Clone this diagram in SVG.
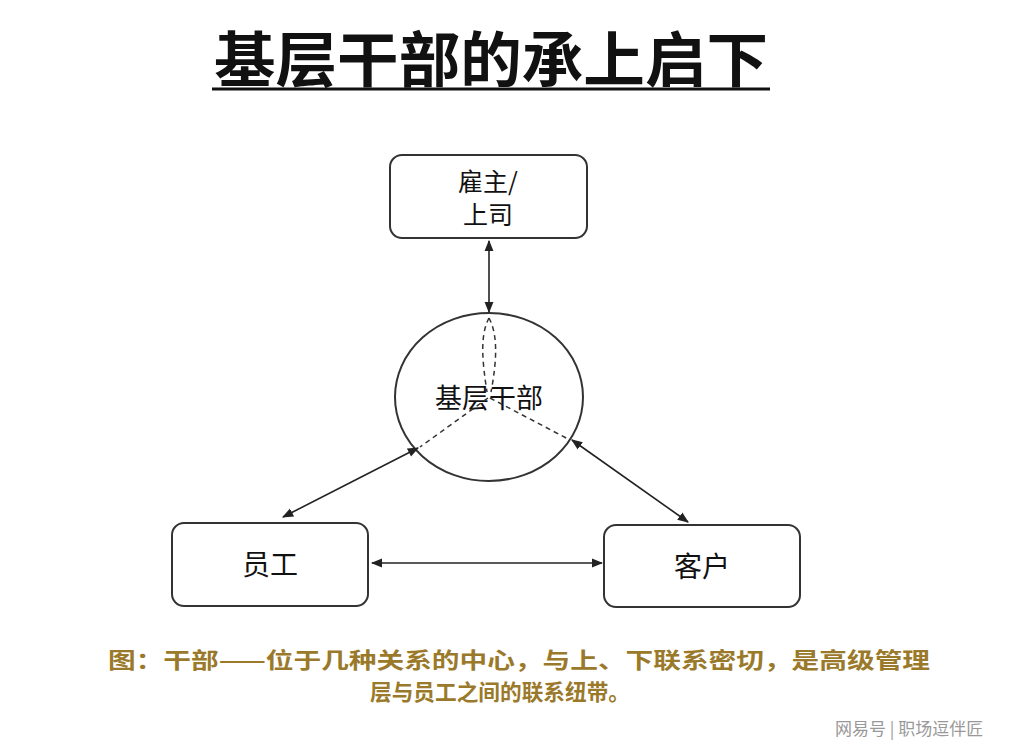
<svg xmlns="http://www.w3.org/2000/svg" width="1014" height="749" viewBox="0 0 1014 749">
<style>
.box{fill:#fff;stroke:#333;stroke-width:2}
.t{font-family:"Noto Sans CJK SC","Liberation Sans",sans-serif;fill:#111}
.ln{stroke:#222;stroke-width:1.6;fill:none}
.ds{stroke:#333;stroke-width:1.5;fill:none;stroke-dasharray:5 4}
.cap{font-family:"Noto Sans CJK SC",sans-serif;fill:#9a7a2a;font-size:22px;font-weight:bold}
</style>
<defs>
<marker id="a" viewBox="0 0 10 10" refX="9" refY="5" markerWidth="7" markerHeight="7" orient="auto-start-reverse"><path d="M0,1 L10,5 L0,9 z" fill="#222"/></marker>
</defs>
<rect width="1014" height="749" fill="#fff"/>
<g id="title">
<text x="214" y="82" textLength="554" lengthAdjust="spacingAndGlyphs" class="t" font-size="60" font-weight="bold">基层干部的承上启下</text>
<line x1="212" y1="89" x2="770" y2="89" stroke="#111" stroke-width="3"/>
</g>
<g id="boss"><rect class="box" x="390" y="155" width="197" height="83" rx="12"/>
<text class="t" font-size="25" x="488" y="191" text-anchor="middle">雇主/</text>
<text class="t" font-size="25" x="488" y="224" text-anchor="middle">上司</text></g>
<g id="cadre"><ellipse cx="489" cy="397" rx="94" ry="84" style="fill:#fff;stroke:#333;stroke-width:2"/>
<text class="t" font-size="27" x="489" y="408" text-anchor="middle">基层干部</text></g>
<g id="staff"><rect class="box" x="172" y="523" width="196" height="83" rx="12"/>
<text class="t" font-size="28" x="270" y="575" text-anchor="middle">员工</text></g>
<g id="client"><rect class="box" x="604" y="525" width="196" height="82" rx="12"/>
<text class="t" font-size="28" x="702" y="577" text-anchor="middle">客户</text></g>
<g id="connectors">
<line class="ln" x1="489" y1="241" x2="489" y2="312" marker-start="url(#a)" marker-end="url(#a)"/>
<line class="ln" x1="283" y1="517" x2="418" y2="448" marker-start="url(#a)" marker-end="url(#a)"/>
<line class="ln" x1="572" y1="440" x2="688" y2="522" marker-start="url(#a)" marker-end="url(#a)"/>
<line class="ln" x1="372" y1="563" x2="602" y2="563" marker-start="url(#a)" marker-end="url(#a)"/>
<path class="ds" d="M489,318 C480,335 482,360 487,392 M489,318 C498,335 497,360 491,392"/>
<path class="ds" d="M488,398 L420,447 M490,398 L570,440"/>
</g>
<g id="caption">
<text class="cap" x="108" y="668" textLength="822" lengthAdjust="spacingAndGlyphs">图：干部——位于几种关系的中心，与上、下联系密切，是高级管理</text>
<text class="cap" x="370" y="700" textLength="260" lengthAdjust="spacingAndGlyphs">层与员工之间的联系纽带。</text>
</g>
<text x="835" y="735" font-family="Noto Sans CJK SC,sans-serif" font-size="17" fill="#999">网易号 | 职场逗伴匠</text>
</svg>
